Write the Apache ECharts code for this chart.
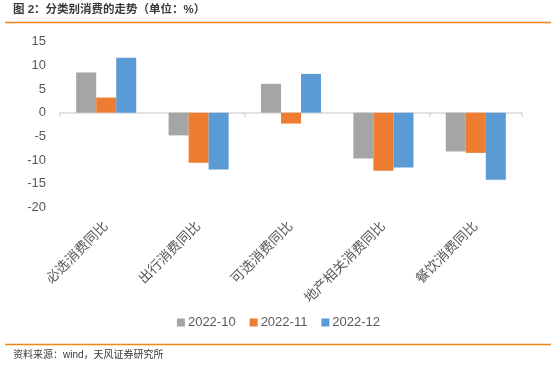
<!DOCTYPE html>
<html><head><meta charset="utf-8">
<script src="https://cdn.jsdelivr.net/npm/echarts@6/dist/echarts.min.js"></script>
<style>html,body{margin:0;padding:0;background:#fff}#c{width:557px;height:368px}</style>
</head><body><div id="c"></div>
<script>
var categories = ['必选消费同比','出行消费同比','可选消费同比','地产相关消费同比','餐饮消费同比'];
var seriesNames = ['2022-10','2022-11','2022-12'];
var s202210 = [8.5, -4.8, 6.1, -9.7, -8.2];
var s202211 = [3.2, -10.6, -2.3, -12.3, -8.5];
var s202212 = [11.6, -12.0, 8.2, -11.6, -14.2];
var yMin = -20, yMax = 15, yStep = 5;
var colors = ['#A5A5A5','#ED7D31','#5B9BD5'];
var FONT = '"Liberation Sans","Noto Sans CJK SC",sans-serif';
var chart = echarts.init(document.getElementById('c'));
var data = [s202210, s202211, s202212];
chart.setOption({
  animation:false,
  color: colors,
  textStyle:{fontFamily:FONT},
  graphic:[
    {type:'text', left:13, top:4, style:{text:'图 2：分类别消费的走势（单位：%）', font:'bold 11.5px '+FONT, fill:'#3a3a3a'}},
    {type:'line', shape:{x1:5,y1:22.5,x2:551,y2:22.5}, style:{stroke:'#F08519',lineWidth:1.5}},
    {type:'line', shape:{x1:5,y1:344.5,x2:551,y2:344.5}, style:{stroke:'#F08519',lineWidth:1.5}},
    {type:'text', left:13, top:350, style:{text:'资料来源：wind，天风证券研究所', font:'10px '+FONT, fill:'#3a3a3a'}}
  ],
  legend:{
    data: seriesNames, bottom: 34, left:'center',
    itemWidth:8, itemHeight:8, itemGap:14, icon:'rect',
    textStyle:{fontSize:13, color:'#595959', fontFamily:FONT, padding:[0,0,0,-2]}
  },
  grid:{left:60, right:35, top:41.7, bottom:160.7},
  xAxis:[
    {type:'category', data:categories, position:'bottom',
     axisLine:{onZero:true, lineStyle:{color:'#D9D9D9', width:1.5}},
     axisTick:{show:true, length:4, lineStyle:{color:'#D9D9D9', width:1.5}},
     axisLabel:{show:false}},
    {type:'category', data:categories, position:'bottom', offset:0,
     axisLine:{show:false, onZero:false}, axisTick:{show:false},
     axisLabel:{rotate:45, fontSize:13.5, color:'#595959', margin:17, fontFamily:FONT}}
  ],
  yAxis:{type:'value', min:yMin, max:yMax, interval:yStep,
    splitLine:{show:false}, axisLine:{show:false}, axisTick:{show:false},
    axisLabel:{fontSize:13, color:'#595959', margin:14, fontFamily:FONT}},
  series: seriesNames.map(function(n,i){
    return {name:n, type:'bar', data:data[i], xAxisIndex:0,
      barGap:'0%', barCategoryGap:'35%'};
  })
});
</script></body></html>
